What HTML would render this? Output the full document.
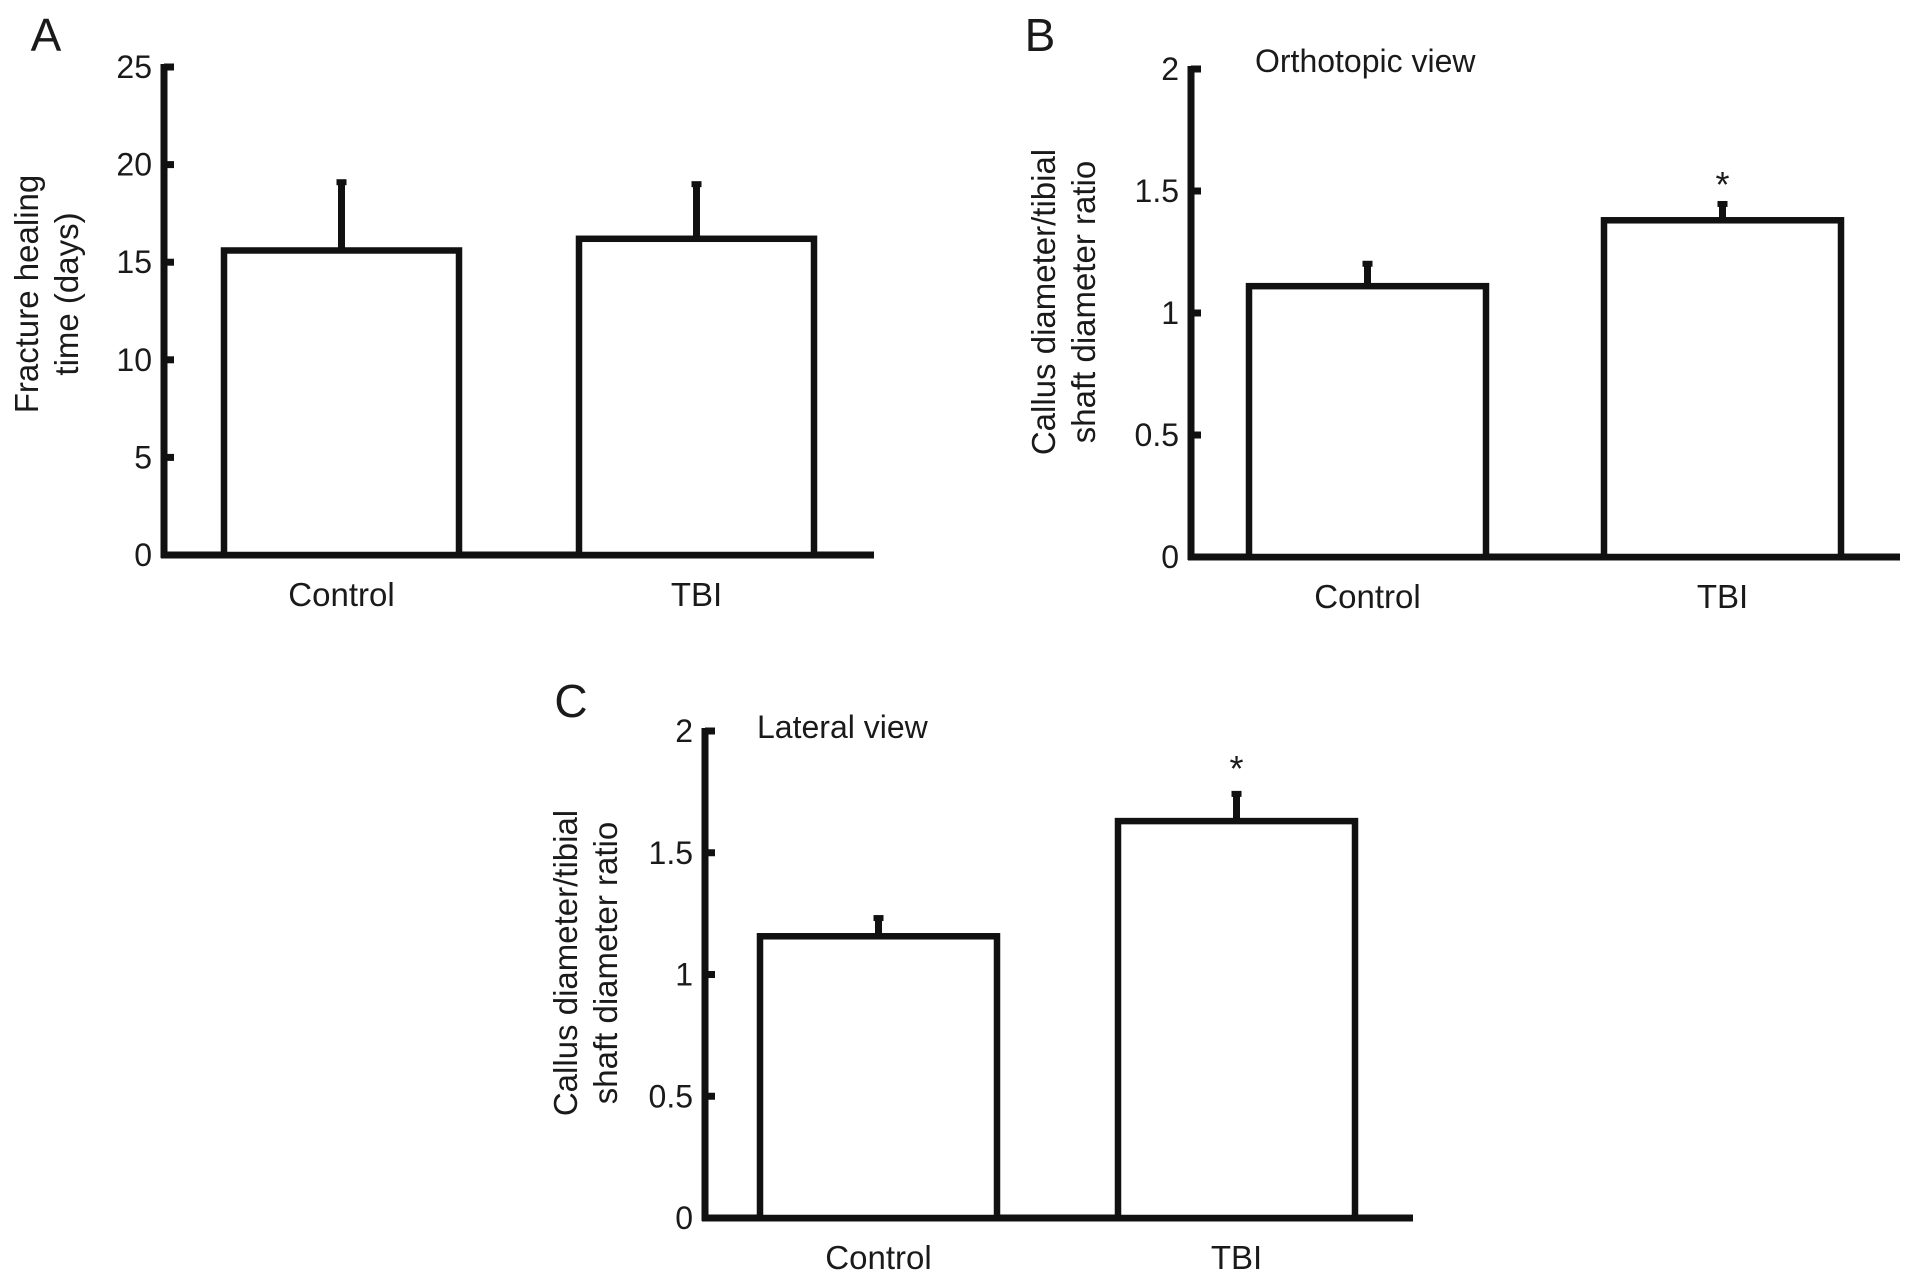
<!DOCTYPE html>
<html><head><meta charset="utf-8"><style>
html,body{margin:0;padding:0;background:#fff}
svg{display:block}
text{font-family:"Liberation Sans",Arial,sans-serif;fill:#1a1a1a}
</style></head><body>
<svg id="fig" width="1913" height="1278" viewBox="0 0 1913 1278" xmlns="http://www.w3.org/2000/svg"></svg>
<script>
const categories = ["Control", "TBI"];
const valuesA = [15.6, 16.2];
const errorsA = [19.2, 19.1];
const valuesB = [1.11, 1.38];
const errorsB = [1.21, 1.455];
const valuesC = [1.157, 1.63];
const errorsC = [1.24, 1.75];
const ticksA = [0, 5, 10, 15, 20, 25];
const ticksBC = [0, 0.5, 1, 1.5, 2];
const tickLabelsA = ["0", "5", "10", "15", "20", "25"];
const tickLabelsBC = ["0", "0.5", "1", "1.5", "2"];
const starsB = [false, true];
const starsC = [false, true];

const NS = "http://www.w3.org/2000/svg";
const svg = document.getElementById('fig');
function mk(tag, attrs, parent) {
  const e = document.createElementNS(NS, tag);
  for (const k in attrs) e.setAttribute(k, attrs[k]);
  (parent || svg).appendChild(e);
  return e;
}

function panel(cfg) {
  const g = mk('g', {});
  
  
  const y = v => cfg.y0 - (v - cfg.min) / (cfg.max - cfg.min) * (cfg.y0 - cfg.yTop);
  const ya = mk('line', {x1: cfg.ax, y1: y(cfg.max) - 3, x2: cfg.ax, y2: cfg.y0 + 3, stroke: '#111', 'stroke-width': 7}, g);
  
  
  const xa = mk('line', {x1: cfg.ax - 3, y1: cfg.y0, x2: cfg.xEnd, y2: cfg.y0, stroke: '#111', 'stroke-width': 7}, g);
  
  
  cfg.ticks.forEach((t, i) => {
    const tk = mk('line', {x1: cfg.ax, y1: y(t), x2: cfg.ax + 10, y2: y(t), stroke: '#111', 'stroke-width': 7}, g);
    
    
    const tl = mk('text', {x: cfg.ax - 12, y: y(t) + 11, 'text-anchor': 'end', 'font-size': 32}, g);
    tl.textContent = cfg.tickLabels[i];
    
    
  });
  categories.forEach((c, i) => {
    const x0 = cfg.barX[i], w = cfg.barW;
    const cx = x0 + w / 2;
    const eb = mk('line', {x1: cx, y1: y(cfg.values[i]), x2: cx, y2: y(cfg.errors[i]), stroke: '#111', 'stroke-width': 7}, g);
    
    
    const cap = mk('line', {x1: cx - 5, y1: y(cfg.errors[i]) + 2, x2: cx + 5, y2: y(cfg.errors[i]) + 2, stroke: '#111', 'stroke-width': 6}, g);
    
    
    const r = mk('rect', {x: x0, y: y(cfg.values[i]), width: w, height: cfg.y0 - y(cfg.values[i]), fill: '#fff', stroke: '#111', 'stroke-width': 6.5}, g);
    
    
    const cl = mk('text', {x: cx, y: cfg.y0 + 51, 'text-anchor': 'middle', 'font-size': 33}, g);
    cl.textContent = c;
    
    
    if (cfg.stars && cfg.stars[i]) {
      const s = mk('text', {x: cx, y: cfg.starY, 'text-anchor': 'middle', 'font-size': 36}, g);
      s.textContent = '*';
      
      
    }
  });
  const L = mk('text', {x: cfg.letterX, y: cfg.letterY, 'text-anchor': 'middle', 'font-size': 46}, g);
  L.textContent = cfg.letter;
  
  
  const tt = mk('text', {transform: `translate(${cfg.titleX},${cfg.titleY}) rotate(-90)`, 'text-anchor': 'middle', 'font-size': 33}, g);
  
  
  const t1 = mk('tspan', {x: 0, y: 0}, tt); t1.textContent = cfg.title[0];
  const t2 = mk('tspan', {x: 0, y: 40}, tt); t2.textContent = cfg.title[1];
  if (cfg.sub) {
    const sb = mk('text', {x: cfg.subX, y: cfg.subY, 'font-size': 32}, g);
    sb.textContent = cfg.sub;
    
    
  }
}

panel({name: 'panel-a', min: 0, max: 25, y0: 555, yTop: 67, ax: 164, xEnd: 874,
  ticks: ticksA, tickLabels: tickLabelsA, values: valuesA, errors: errorsA,
  barX: [224, 579], barW: 235, letter: 'A', letterX: 46, letterY: 51,
  title: ['Fracture healing', 'time (days)'], titleX: 38, titleY: 294});
panel({name: 'panel-b', min: 0, max: 2, y0: 557, yTop: 69, ax: 1191, xEnd: 1900,
  ticks: ticksBC, tickLabels: tickLabelsBC, values: valuesB, errors: errorsB, stars: starsB, starY: 197,
  barX: [1249, 1604], barW: 237, letter: 'B', letterX: 1040, letterY: 51,
  title: ['Callus diameter/tibial', 'shaft diameter ratio'], titleX: 1055, titleY: 302,
  sub: 'Orthotopic view', subX: 1255, subY: 72});
panel({name: 'panel-c', min: 0, max: 2, y0: 1218, yTop: 731, ax: 705, xEnd: 1413,
  ticks: ticksBC, tickLabels: tickLabelsBC, values: valuesC, errors: errorsC, stars: starsC, starY: 781,
  barX: [760, 1118], barW: 237, letter: 'C', letterX: 571, letterY: 717,
  title: ['Callus diameter/tibial', 'shaft diameter ratio'], titleX: 577, titleY: 963,
  sub: 'Lateral view', subX: 757, subY: 738});
</script>
</body></html>
